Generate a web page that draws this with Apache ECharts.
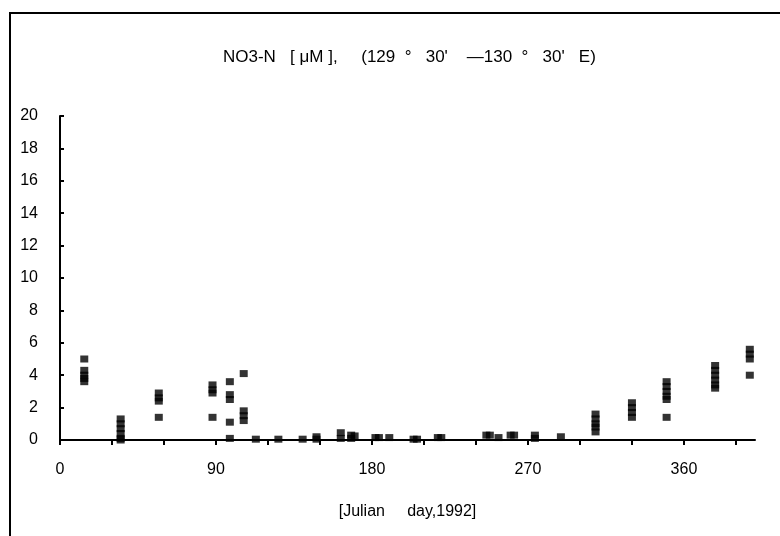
<!DOCTYPE html>
<html>
<head>
<meta charset="utf-8">
<script src="https://cdn.jsdelivr.net/npm/echarts@6/dist/echarts.min.js"></script>
<style>
html,body{margin:0;padding:0;background:#fff;}
#chart{width:780px;height:536px;}
</style>
</head>
<body>
<div id="chart"></div>
<script>
// Julian day of each sampling station (1992)
const days = [14, 35, 57, 88, 98, 106, 113, 126, 140, 148, 162, 168, 170, 182, 184, 190,
  204, 206, 218, 220, 246, 248, 253, 260, 262, 274, 289, 309, 330, 350, 378, 398];
// NO3-N values (µM) measured on each day
const no3 = [
  [5.0, 4.3, 4.0, 3.8, 3.6],
  [1.3, 1.0, 0.7, 0.4, 0.1, 0.0],
  [2.9, 2.6, 2.4, 1.4],
  [3.4, 3.1, 2.9, 1.4],
  [3.6, 2.8, 2.5, 1.1, 0.1],
  [4.1, 1.8, 1.5, 1.2],
  [0.05],
  [0.05],
  [0.05],
  [0.2, 0.05],
  [0.45, 0.1],
  [0.3, 0.1],
  [0.25],
  [0.15],
  [0.15],
  [0.15],
  [0.05],
  [0.05],
  [0.15],
  [0.15],
  [0.3],
  [0.3],
  [0.15],
  [0.3],
  [0.3],
  [0.3, 0.1],
  [0.2],
  [1.6, 1.3, 1.0, 0.8, 0.5],
  [2.3, 2.0, 1.7, 1.4],
  [3.6, 3.3, 3.0, 2.7, 2.5, 1.4],
  [4.6, 4.3, 4.0, 3.7, 3.4, 3.2],
  [5.6, 5.3, 5.0, 4.0]
];
const xLabelDays = [0, 90, 180, 270, 360];
const yTicks = [0, 2, 4, 6, 8, 10, 12, 14, 16, 18, 20];

const points = [];
days.forEach((d, i) => no3[i].forEach(v => points.push([d, v])));

const FONT = '"Liberation Sans", Arial, sans-serif';
const chart = echarts.init(document.getElementById('chart'), null, {renderer: 'canvas'});
chart.setOption({
  backgroundColor: '#fff',
  animation: false,
  title: {
    text: "NO3-N   [ \u03bcM ],     (129  \u00b0   30'    \u2014130  \u00b0   30'   E)",
    left: 218, top: 44,
    textStyle: {fontFamily: FONT, fontSize: 17, fontWeight: 'normal', color: '#000'}
  },
  graphic: [
    {type: 'line', shape: {x1: 10, y1: 13, x2: 10, y2: 536}, style: {stroke: '#000', lineWidth: 2}},
    {type: 'line', shape: {x1: 9, y1: 13, x2: 780, y2: 13}, style: {stroke: '#000', lineWidth: 2}}
  ],
  grid: {left: 60, right: 25, top: 116, bottom: 96},
  xAxis: {
    type: 'value', min: 0, max: 401, interval: 30,
    name: '[Julian     day,1992]', nameLocation: 'middle', nameGap: 64,
    nameTextStyle: {fontFamily: FONT, fontSize: 16, color: '#000'},
    axisLine: {show: true, onZero: false, lineStyle: {color: '#000', width: 2}},
    axisTick: {show: true, inside: false, length: 5, lineStyle: {color: '#000', width: 2}},
    axisLabel: {
      margin: 22, fontFamily: FONT, fontSize: 16, color: '#000',
      showMaxLabel: false,
      formatter: v => xLabelDays.indexOf(v) >= 0 ? String(v) : ''
    },
    splitLine: {show: false}
  },
  yAxis: {
    type: 'value', min: yTicks[0], max: yTicks[yTicks.length - 1], interval: 2,
    axisLine: {show: true, lineStyle: {color: '#000', width: 2}},
    axisTick: {show: true, inside: true, length: 4, lineStyle: {color: '#000', width: 2}},
    axisLabel: {margin: 22, fontFamily: FONT, fontSize: 16, color: '#000'},
    splitLine: {show: false}
  },
  series: [{
    type: 'scatter',
    data: points,
    symbol: 'rect',
    symbolSize: [8, 7],
    clip: false,
    itemStyle: {color: '#000'}
  }]
});
</script>
</body>
</html>
